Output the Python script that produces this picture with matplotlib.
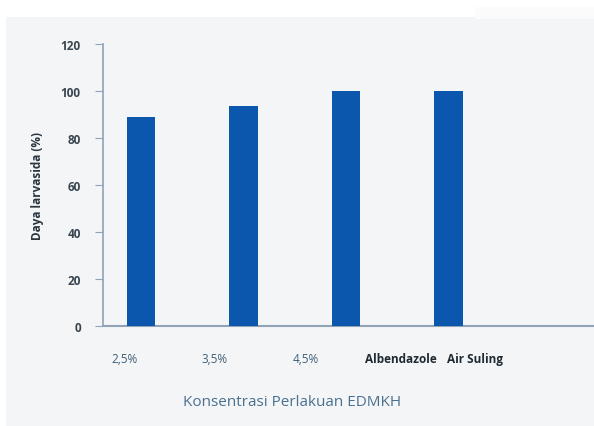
import matplotlib
matplotlib.use("Agg")
import matplotlib.pyplot as plt
from matplotlib.patches import Rectangle

categories = ["2,5%", "3,5%", "4,5%", "Albendazole", "Air Suling"]
values = [89, 93.5, 100, 100, 0]
yticks = [0, 20, 40, 60, 80, 100, 120]
# label positions (offset from bar centres as in the reference)
label_pos = [-0.16, 0.72, 1.61, 2.54, 3.26]
label_colors = ["#3e5f78", "#3e5f78", "#3e5f78", "#1f2a33", "#1f2a33"]
label_weights = ["normal", "normal", "normal", "bold", "bold"]

fig = plt.figure(figsize=(5.94, 4.27), dpi=100)
fig.patch.set_facecolor("white")
fig.patches.append(Rectangle((6/594, 0), 1, 1 - 18/427, transform=fig.transFigure,
                             facecolor="#f4f5f7", edgecolor="none", zorder=-10))
fig.patches.append(Rectangle((475/594, 1 - 20/427), 0.3, 12/427, transform=fig.transFigure,
                             facecolor="#fbfbfc", edgecolor="none", zorder=-9))

ax = fig.add_axes([103/594, 100/427, (594-103)/594, (327-45)/427])
ax.set_facecolor("none")
x = list(range(len(categories)))
ax.bar(x, values, width=0.28, color="#0b57ad", zorder=3)

ax.set_ylim(0, 120)
ax.set_xlim(-0.37, 4.42)
ax.set_yticks(yticks)
ax.set_yticklabels([str(v) for v in yticks], fontsize=8.5, fontweight="bold",
                   color="#3a4650", family="Open Sans")
ax.tick_params(axis="y", direction="out", length=6, color="#8fa3b5", pad=10)
ax.set_xticks(label_pos)
ax.set_xticklabels(categories, fontsize=8.5, family="Open Sans")
for lab, c, w in zip(ax.get_xticklabels(), label_colors, label_weights):
    lab.set_color(c)
    lab.set_fontweight(w)
ax.tick_params(axis="x", length=0, pad=19)

for s in ["top", "right"]:
    ax.spines[s].set_visible(False)
ax.spines["left"].set_color("#8fa3b5")
ax.spines["bottom"].set_color("#8fa3b5")
ax.spines["left"].set_linewidth(1.2)
ax.spines["bottom"].set_linewidth(1.5)

ax.set_ylabel("Daya larvasida (%)", fontsize=8.5, fontweight="bold", color="#2a3540",
              family="Open Sans", labelpad=12)
ax.set_xlabel("Konsentrasi Perlakuan EDMKH", fontsize=11, color="#4a7090",
              family="Open Sans")
ax.xaxis.set_label_coords((292-103)/(594-103), -(395-327)/(327-45))

fig.savefig("out.png", dpi=100)
